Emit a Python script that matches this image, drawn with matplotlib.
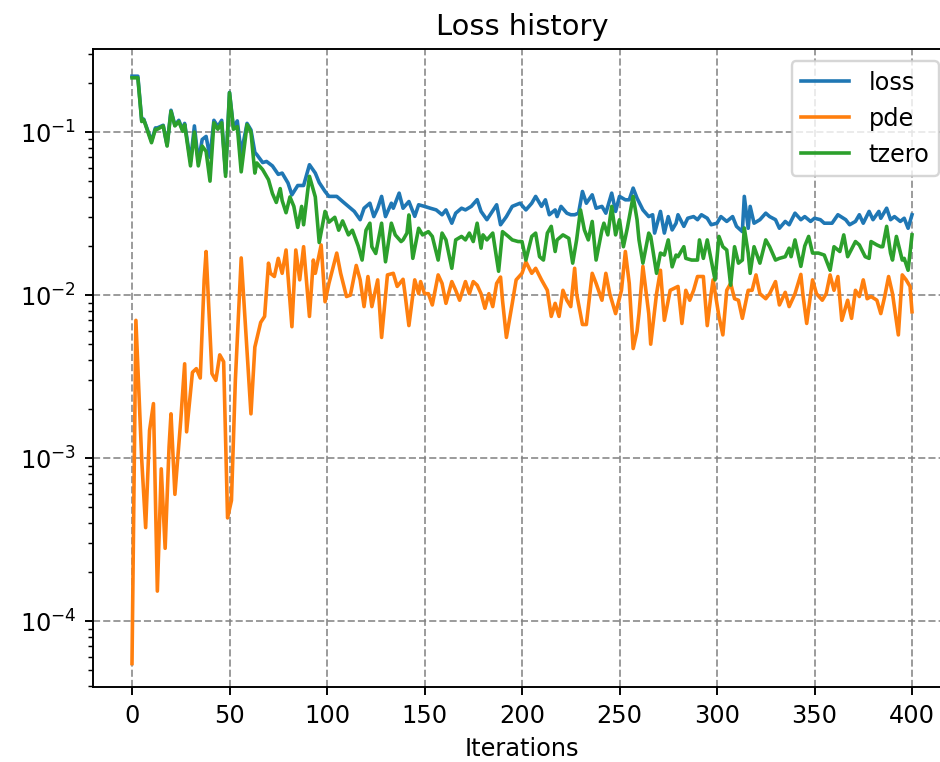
import matplotlib
matplotlib.use("Agg")
import matplotlib.pyplot as plt

# ---- data ----
iters_loss = [0, 3, 5, 6, 7, 10, 12, 13, 16, 18, 20, 22, 24, 26, 27, 30, 32, 34, 36, 38,
              40, 42, 44, 46, 48, 50, 52, 54, 56, 59, 61, 63, 64, 67, 69, 72, 75, 77, 80, 82,
              85, 88, 91, 94, 96, 99, 101, 105, 108, 111, 114, 117, 119, 122, 124, 126, 128, 130, 133, 134,
              137, 139, 142, 145, 147, 150, 153, 156, 159, 161, 164, 166, 169, 171, 174, 177, 179, 182, 187, 189,
              192, 195, 199, 202, 205, 207, 210, 212, 214, 217, 218, 220, 223, 225, 227, 229, 231, 233, 236, 238,
              241, 243, 246, 248, 250, 253, 255, 257, 259, 262, 265, 267, 268, 271, 273, 275, 277, 279, 280, 283,
              285, 288, 290, 292, 295, 297, 300, 302, 305, 308, 310, 313, 314, 316, 317, 319, 322, 325, 327, 330,
              332, 335, 337, 340, 343, 345, 348, 350, 353, 355, 359, 362, 366, 368, 371, 373, 375, 378, 380, 383,
              384, 387, 389, 391, 394, 396, 398, 400]
loss = [0.22, 0.22, 0.117, 0.12, 0.111, 0.088, 0.106, 0.106, 0.11, 0.083, 0.136, 0.11, 0.118, 0.103, 0.113, 0.066, 0.109, 0.066, 0.090, 0.094,
        0.070, 0.118, 0.108, 0.118, 0.056, 0.175, 0.107, 0.117, 0.074, 0.113, 0.103, 0.075, 0.0727, 0.065, 0.066, 0.062, 0.055, 0.056, 0.0487, 0.0412,
        0.047, 0.047, 0.063, 0.056, 0.049, 0.0432, 0.0403, 0.0403, 0.0375, 0.0350, 0.0326, 0.029, 0.0341, 0.0366, 0.0303, 0.0341, 0.0403, 0.0303, 0.0366, 0.0341,
        0.0422, 0.0341, 0.0375, 0.0304, 0.0358, 0.0350, 0.0341, 0.0333, 0.0311, 0.0333, 0.0276, 0.0318, 0.0341, 0.0333, 0.0350, 0.0385, 0.0326, 0.029, 0.0358, 0.027,
        0.0303, 0.0350, 0.0366, 0.0333, 0.0366, 0.0403, 0.0350, 0.0384, 0.0311, 0.0333, 0.0303, 0.0350, 0.0318, 0.0311, 0.0311, 0.0318, 0.0432, 0.0366, 0.0412, 0.0341,
        0.0350, 0.0318, 0.0422, 0.0326, 0.0403, 0.0384, 0.0384, 0.0453, 0.0393, 0.0333, 0.0303, 0.0311, 0.024, 0.0326, 0.024, 0.0303, 0.0251, 0.0276, 0.0311, 0.0264,
        0.0296, 0.0303, 0.029, 0.0311, 0.0296, 0.027, 0.0276, 0.0303, 0.0283, 0.0303, 0.0264, 0.0245, 0.0403, 0.0257, 0.0350, 0.0276, 0.029, 0.0318, 0.0303, 0.029,
        0.0257, 0.0283, 0.027, 0.0318, 0.029, 0.0303, 0.0283, 0.0296, 0.029, 0.0276, 0.0276, 0.0311, 0.029, 0.027, 0.0283, 0.0311, 0.0276, 0.0326, 0.029, 0.0326,
        0.0296, 0.0341, 0.029, 0.0303, 0.0283, 0.0296, 0.0257, 0.0311]

iters_pde = [0, 2, 5, 7, 9, 11, 13, 15, 17, 19, 20, 22, 25, 27, 28, 31, 33, 35, 37, 38,
             41, 43, 45, 47, 49, 51, 53, 56, 61, 63, 66, 68, 70, 71, 73, 75, 77, 79, 82, 84,
             86, 88, 91, 93, 94, 97, 99, 101, 105, 107, 110, 112, 115, 117, 119, 121, 123, 126, 128, 131,
             134, 136, 139, 140, 142, 145, 147, 148, 150, 152, 154, 157, 159, 161, 164, 166, 168, 171, 173, 175,
             177, 179, 181, 183, 185, 187, 189, 190, 192, 195, 197, 200, 202, 205, 207, 210, 213, 215, 217, 219,
             221, 223, 225, 227, 228, 231, 233, 236, 238, 241, 243, 245, 248, 251, 253, 255, 257, 259, 260, 262,
             265, 266, 269, 271, 273, 276, 278, 280, 282, 284, 286, 288, 290, 293, 295, 297, 298, 301, 303, 305,
             307, 309, 311, 313, 316, 318, 320, 322, 325, 327, 330, 332, 335, 337, 340, 343, 344, 346, 349, 351,
             354, 356, 358, 360, 362, 364, 367, 369, 371, 373, 375, 377, 379, 382, 384, 386, 388, 390, 393, 395,
             397, 399, 400]
pde = [5.5e-5, 0.0070, 0.00097, 3.75e-4, 0.00148, 0.00216, 1.53e-4, 8.6e-4, 2.8e-4, 0.00117, 0.00187, 6.0e-4, 0.00171, 0.00379, 0.00145, 0.00336, 0.00354, 0.0031, 0.0124, 0.0185,
       0.0033, 0.0030, 0.0043, 0.0039, 4.3e-4, 5.5e-4, 0.0030, 0.0169, 0.00187, 0.0048, 0.0068, 0.0074, 0.0157, 0.0136, 0.0130, 0.0168, 0.0136, 0.0189, 0.0064, 0.0189,
       0.0124, 0.0198, 0.0074, 0.0164, 0.0136, 0.0203, 0.0091, 0.0118, 0.0181, 0.0136, 0.0098, 0.0100, 0.0152, 0.0124, 0.0085, 0.0130, 0.0085, 0.0124, 0.0055, 0.0133,
       0.0136, 0.0113, 0.0125, 0.0102, 0.0065, 0.0124, 0.0102, 0.0121, 0.0102, 0.0102, 0.0087, 0.0133, 0.0118, 0.0089, 0.0121, 0.0107, 0.0093, 0.0121, 0.0102, 0.0121,
       0.0115, 0.0102, 0.0083, 0.0102, 0.0085, 0.0118, 0.0129, 0.0093, 0.0055, 0.0089, 0.0124, 0.0136, 0.0160, 0.0136, 0.0146, 0.0124, 0.0107, 0.0074, 0.0089, 0.0074,
       0.0107, 0.0093, 0.0085, 0.0146, 0.0102, 0.0066, 0.0066, 0.0136, 0.0118, 0.0093, 0.0136, 0.0102, 0.0077, 0.0107, 0.0185, 0.0118, 0.0047, 0.0060, 0.0077, 0.0150,
       0.0077, 0.0050, 0.0102, 0.0142, 0.0070, 0.0107, 0.0110, 0.0113, 0.0067, 0.0107, 0.0093, 0.0107, 0.0130, 0.0130, 0.0065, 0.0102, 0.0124, 0.0074, 0.0057, 0.0107,
       0.0118, 0.0095, 0.0093, 0.0072, 0.0107, 0.0107, 0.0133, 0.0102, 0.0095, 0.0102, 0.0121, 0.0087, 0.0104, 0.0085, 0.0102, 0.0134, 0.0102, 0.0067, 0.0124, 0.0102,
       0.0093, 0.0102, 0.0133, 0.0107, 0.0130, 0.0070, 0.0093, 0.0072, 0.0107, 0.0098, 0.0124, 0.0095, 0.0098, 0.0093, 0.0077, 0.0098, 0.0130, 0.0102, 0.0057, 0.0133,
       0.0124, 0.0113, 0.0079]

iters_tzero = [0, 3, 5, 6, 7, 10, 12, 13, 16, 18, 20, 22, 24, 26, 27, 30, 32, 34, 36, 38,
               40, 42, 44, 46, 48, 50, 52, 54, 56, 59, 61, 63, 64, 67, 70, 72, 74, 76, 77, 79,
               81, 83, 85, 87, 88, 91, 94, 96, 99, 101, 104, 106, 108, 111, 113, 116, 118, 120, 122, 123,
               125, 128, 130, 133, 135, 138, 139, 141, 142, 144, 147, 149, 152, 154, 157, 159, 161, 164, 166, 169,
               171, 173, 175, 177, 179, 180, 182, 185, 188, 190, 193, 195, 198, 200, 202, 205, 207, 209, 211, 213,
               215, 217, 218, 221, 224, 226, 228, 230, 232, 234, 236, 238, 241, 242, 244, 246, 248, 250, 252, 254,
               257, 259, 260, 262, 265, 266, 269, 271, 273, 275, 277, 279, 280, 283, 284, 287, 290, 291, 293, 295,
               297, 299, 301, 303, 305, 307, 309, 311, 313, 314, 316, 317, 319, 322, 325, 327, 330, 332, 335, 337,
               338, 340, 343, 345, 347, 349, 352, 355, 358, 360, 363, 365, 367, 371, 373, 376, 378, 379, 382, 384,
               385, 387, 389, 390, 392, 395, 396, 398, 400]
tzero = [0.215, 0.215, 0.116, 0.119, 0.110, 0.086, 0.104, 0.104, 0.109, 0.082, 0.134, 0.109, 0.116, 0.101, 0.111, 0.062, 0.100, 0.062, 0.082, 0.076,
         0.050, 0.114, 0.104, 0.114, 0.0535, 0.174, 0.104, 0.108, 0.057, 0.111, 0.100, 0.056, 0.0646, 0.0588, 0.051, 0.042, 0.037, 0.045, 0.038, 0.032,
         0.040, 0.035, 0.026, 0.035, 0.027, 0.0535, 0.040, 0.021, 0.0326, 0.028, 0.030, 0.025, 0.0285, 0.0234, 0.025, 0.020, 0.0164, 0.025, 0.0276, 0.0198,
         0.018, 0.0276, 0.016, 0.0276, 0.0234, 0.0213, 0.0218, 0.024, 0.031, 0.0168, 0.0257, 0.0234, 0.0245, 0.0229, 0.0164, 0.024, 0.0218, 0.0146, 0.0218, 0.0229,
         0.0218, 0.024, 0.0213, 0.0276, 0.0194, 0.0234, 0.0218, 0.024, 0.014, 0.0245, 0.0229, 0.0218, 0.0213, 0.0213, 0.0164, 0.0229, 0.024, 0.0172, 0.0164, 0.024,
         0.0264, 0.0185, 0.0218, 0.0234, 0.0223, 0.0157, 0.0218, 0.0333, 0.0251, 0.0218, 0.0283, 0.0164, 0.0251, 0.0276, 0.0234, 0.035, 0.0234, 0.029, 0.0198, 0.0257,
         0.0403, 0.029, 0.0218, 0.0157, 0.024, 0.0229, 0.0136, 0.0181, 0.0176, 0.0218, 0.0149, 0.0176, 0.0172, 0.0198, 0.0168, 0.0164, 0.0164, 0.0218, 0.0168, 0.0218,
         0.0164, 0.0124, 0.0229, 0.0198, 0.0189, 0.0115, 0.0198, 0.0157, 0.0164, 0.0258, 0.0181, 0.0136, 0.0198, 0.0157, 0.0218, 0.0198, 0.0164, 0.0168, 0.0172, 0.0194,
         0.0172, 0.0218, 0.015, 0.020, 0.0229, 0.0181, 0.0181, 0.0176, 0.0142, 0.0198, 0.0185, 0.0234, 0.0172, 0.0213, 0.0203, 0.0172, 0.0168, 0.0213, 0.0203, 0.0198,
         0.0198, 0.0264, 0.0181, 0.0164, 0.0229, 0.0164, 0.0168, 0.0142, 0.0234]

series_labels = ["loss", "pde", "tzero"]

# ---- figure ----
DPI = 173
fig = plt.figure(figsize=(940 / DPI, 762 / DPI), dpi=DPI)
ax = fig.add_axes([93 / 940, 75 / 762, 858 / 940, 638 / 762])

ax.plot(iters_loss, loss, label=series_labels[0])
ax.plot(iters_pde, pde, label=series_labels[1])
ax.plot(iters_tzero, tzero, label=series_labels[2])

ax.set_yscale("log")
ax.set_xlim(-20, 420)
ax.set_ylim(3.95e-5, 0.323)
ax.set_xticks(range(0, 401, 50))
ax.grid(True, which="major", linestyle="--", color="gray", alpha=0.8)
ax.set_title("Loss history")
ax.set_xlabel("Iterations")
ax.legend(loc="upper right")

fig.savefig("out.png", dpi=DPI)
